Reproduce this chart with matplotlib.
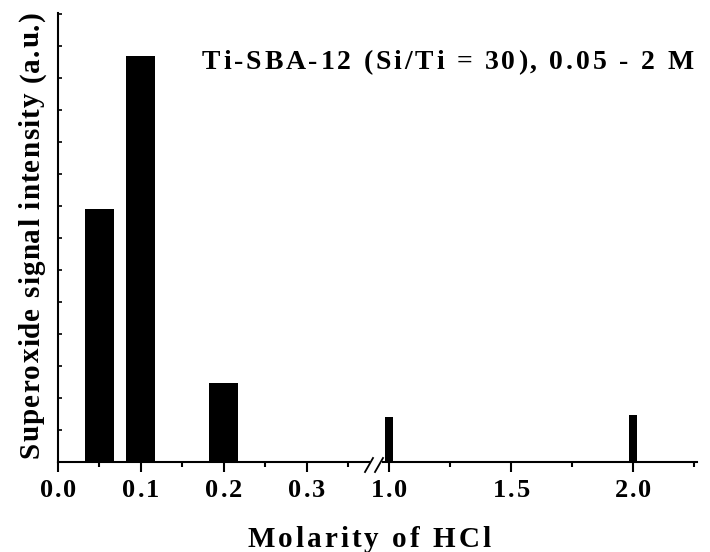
import matplotlib.pyplot as plt
from matplotlib.font_manager import FontProperties, findfont, get_font

plt.rcParams['font.family'] = ['Liberation Serif', 'DejaVu Serif']
plt.rcParams['font.weight'] = 'bold'

# data
low_molarity = [0.05, 0.1, 0.2]
low_signal = [7.9, 12.7, 2.47]
high_molarity = [1.0, 2.0]
high_signal = [1.4, 1.47]
bar_width = 0.035

low_ticks = [0.0, 0.1, 0.2, 0.3]
low_labels = ['0.0', '0.1', '0.2', '0.3']
high_ticks = [1.0, 1.5, 2.0]
high_labels = ['1.0', '1.5', '2.0']

W, H = 710, 552
fig = plt.figure(figsize=(W / 100, H / 100), dpi=100)
axL = fig.add_axes([58 / W, 90 / H, 311 / W, 449 / H])
axR = fig.add_axes([383 / W, 90 / H, 314 / W, 449 / H], sharey=axL)

FONT = get_font(findfont(FontProperties(family='Liberation Serif', weight='bold')))


def tracked(s, x, y, size, track, ha='center', rotation=0):
    """Write s letter by letter with extra spacing; x, y in pixels from bottom left."""
    FONT.set_size(size, 100)
    adv = [FONT.load_char(ord(c)).linearHoriAdvance / 65536 for c in s]
    total = sum(adv) + track * (len(s) - 1)
    pos = {'left': 0, 'center': -total / 2, 'right': -total}[ha]
    for c, a in zip(s, adv):
        if rotation == 0:
            px, py = x + pos, y
        else:
            px, py = x, y + pos
        fig.text(px / W, py / H, c, fontsize=size, fontweight='bold',
                 ha='left', va='baseline', rotation=rotation,
                 rotation_mode='anchor')
        pos += a + track


axL.bar(low_molarity, low_signal, width=bar_width, color='black')
axR.bar(high_molarity, high_signal, width=bar_width, color='black')

axL.set_xlim(0, 0.375)
axR.set_xlim(0.975, 2.262)
axL.set_ylim(0, 14.03)

for ax in (axL, axR):
    ax.spines['top'].set_visible(False)
    ax.spines['right'].set_visible(False)
    for s in ax.spines.values():
        s.set_linewidth(1.5)
    ax.tick_params(axis='x', which='major', direction='out', length=7,
                   width=1.5, labelbottom=False)
    ax.tick_params(axis='x', which='minor', direction='out', length=3.5,
                   width=1.5)
axR.spines['left'].set_visible(False)
axR.tick_params(axis='y', which='both', left=False, labelleft=False)

axL.set_xticks(low_ticks)
axL.set_xticks([0.05, 0.15, 0.25, 0.35], minor=True)
axR.set_xticks(high_ticks)
axR.set_xticks([1.25, 1.75, 2.25], minor=True)

axL.set_yticks(range(1, 15))
axL.tick_params(axis='y', direction='in', length=3, width=1.2, labelleft=False)

# tick labels, spaced out like the original
for ax, ticks, labels in ((axL, low_ticks, low_labels), (axR, high_ticks, high_labels)):
    for t, lab in zip(ticks, labels):
        px = ax.transData.transform((t, 0))[0]
        tracked(lab, px, 55, 19, 2)

# break marks on the x axis
for x0 in (365, 375):
    fig.add_artist(plt.Line2D([x0 / W, (x0 + 8) / W],
                              [(H - 472) / H, (H - 458) / H],
                              color='black', lw=1.3))

tracked('Molarity of HCl', 369, 5, 21, 3.0)
tracked('Superoxide signal intensity (a.u.)', 39, H - 235, 21, 1.2, rotation=90)
tracked('Ti-SBA-12 (Si/Ti = 30), 0.05 - 2 M', 202, H - 69, 20, 2.8, ha='left')

fig.savefig('out.png', dpi=100)
